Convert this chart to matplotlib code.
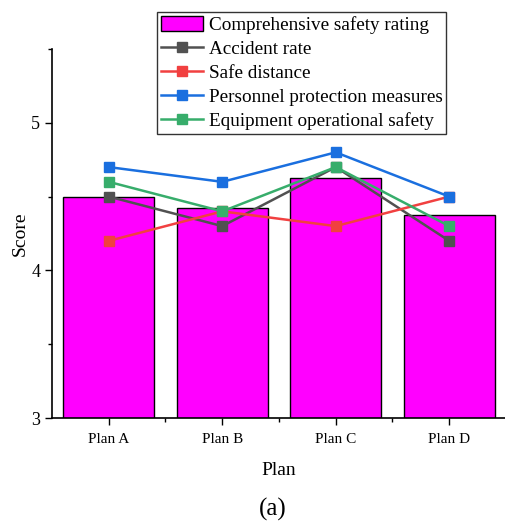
import matplotlib
matplotlib.use("Agg")
import matplotlib.pyplot as plt
import numpy as np
from matplotlib.ticker import MultipleLocator, FixedLocator

plt.rcParams['font.family'] = ['Liberation Serif', 'DejaVu Serif']

# data
plans = ["Plan A", "Plan B", "Plan C", "Plan D"]
comprehensive = [4.5, 4.425, 4.625, 4.375]
accident_rate = [4.5, 4.3, 4.7, 4.2]
safe_distance = [4.2, 4.4, 4.3, 4.5]
personnel = [4.7, 4.6, 4.8, 4.5]
equipment = [4.6, 4.4, 4.7, 4.3]

x = np.arange(len(plans))

fig = plt.figure(figsize=(5.06, 5.21), dpi=100)
ax = fig.add_axes([52/506, 103/521, 454/506, 369/521])

bars = ax.bar(x, comprehensive, width=0.8, color="#FF00FF", edgecolor="black",
              linewidth=1, label="Comprehensive safety rating", zorder=1)
l1, = ax.plot(x, accident_rate, color="#515151", marker="s", ms=7, lw=1.8,
              label="Accident rate", zorder=3)
l2, = ax.plot(x, safe_distance, color="#F14040", marker="s", ms=7, lw=1.8,
              label="Safe distance", zorder=3)
l3, = ax.plot(x, personnel, color="#1A6FDF", marker="s", ms=7, lw=1.8,
              label="Personnel protection measures", zorder=3)
l4, = ax.plot(x, equipment, color="#37AD6B", marker="s", ms=7, lw=1.8,
              label="Equipment operational safety", zorder=3)

ax.set_xlim(-0.5, 3.5)
ax.set_ylim(3, 5.5)
ax.set_xticks(x)
ax.set_xticklabels(plans, fontsize=11)
ax.xaxis.set_minor_locator(FixedLocator([0.5, 1.5, 2.5]))
ax.set_yticks([3, 4, 5])
ax.yaxis.set_minor_locator(MultipleLocator(0.5))
ax.tick_params(axis="y", labelsize=13)
ax.tick_params(axis="x", pad=6)
ax.tick_params(which="major", length=5, width=1, direction="out")
ax.tick_params(which="minor", length=3, width=1, direction="out")

ax.spines["top"].set_visible(False)
ax.spines["right"].set_visible(False)
ax.spines["left"].set_linewidth(1.2)
ax.spines["bottom"].set_linewidth(1.2)

ax.set_xlabel("Plan", fontsize=14, labelpad=11)
ax.set_ylabel("Score", fontsize=14, labelpad=2)

leg = ax.legend(handles=[bars, l1, l2, l3, l4], loc="upper center",
                bbox_to_anchor=(0.55, 1.10), fontsize=13.8,
                frameon=True, fancybox=False, edgecolor="black",
                handlelength=2.2, handleheight=0.8, handletextpad=0.3,
                borderpad=0.2, labelspacing=0.32, borderaxespad=0)
leg.get_frame().set_linewidth(1)

fig.text(0.54, 0.01, "(a)", fontsize=18, ha="center")

plt.savefig("out.png", dpi=100)
